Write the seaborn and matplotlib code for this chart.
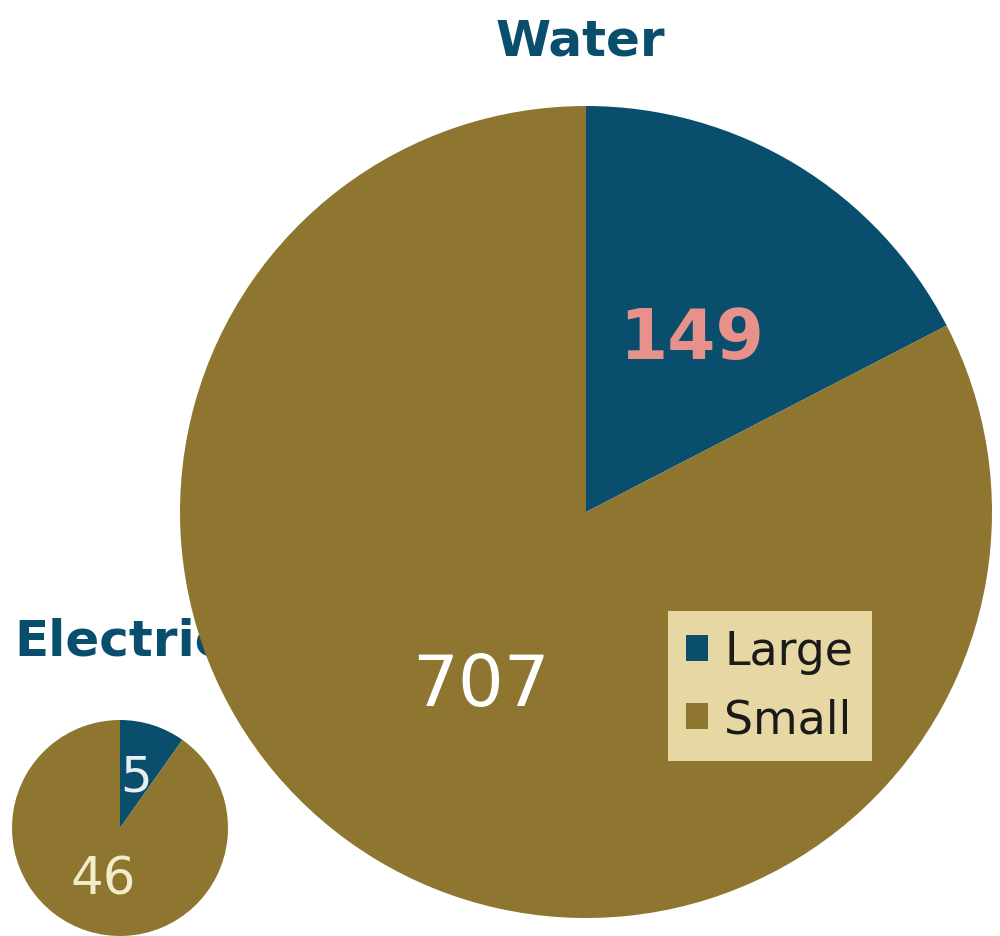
import matplotlib.pyplot as plt
import seaborn as sns

segments = ["Large", "Small"]
water = [149, 707]
electricity = [5, 46]
titles = ["Water", "Electricity"]

NAVY = "#0a4e6e"
GOLD = "#8e7530"


def main():
    sns.set_theme(style="white")
    plt.rcParams["font.family"] = ["DejaVu Sans"]
    palette = sns.color_palette([NAVY, GOLD])

    fig = plt.figure(figsize=(10, 9.37), dpi=100)
    ax = fig.add_axes([0, 0, 1, 1])

    # small pie (electricity)
    small, _, small_txt = ax.pie(
        electricity,
        colors=palette,
        startangle=90,
        counterclock=False,
        center=(120, 937 - 829),
        radius=108,
        autopct=lambda p: f"{round(p * sum(electricity) / 100):d}",
        pctdistance=0.5,
        wedgeprops={"linewidth": 0, "zorder": 2},
    )
    small_txt[0].set(color="#e9eef2", fontsize=36)
    small_txt[1].set(color="#f3ecc8", fontsize=37)

    # big pie (water)
    big, _, big_txt = ax.pie(
        water,
        colors=palette,
        startangle=90,
        counterclock=False,
        center=(586, 937 - 513),
        radius=406,
        autopct=lambda p: f"{round(p * sum(water) / 100):d}",
        pctdistance=0.5,
        wedgeprops={"linewidth": 0, "zorder": 2},
    )
    big_txt[0].set(color="#e8918a", fontsize=50, fontweight="bold")
    big_txt[1].set(color="white", fontsize=52)

    ax.text(580, 937 - 42, titles[0], ha="center", va="center",
            fontsize=36, fontweight="bold", color=NAVY, zorder=1)
    ax.text(14, 937 - 642, titles[1], ha="left", va="center",
            fontsize=36, fontweight="bold", color=NAVY, zorder=1)

    ax.set_xlim(0, 1000)
    ax.set_ylim(0, 937)
    ax.set_aspect("equal")
    ax.axis("off")

    leg = fig.legend(
        big, segments,
        loc="upper left",
        bbox_to_anchor=(0.668, 1 - 612 / 937),
        borderaxespad=0,
        fontsize=33,
        frameon=True,
        fancybox=False,
        handlelength=0.48,
        handleheight=0.48,
        handletextpad=0.35,
        labelspacing=0.5,
        borderpad=0.4,
    )
    leg.get_frame().set(facecolor="#e6d7a3", edgecolor="none", alpha=1)
    for t in leg.get_texts():
        t.set_color("#1a1a1a")

    fig.savefig("out.png", dpi=100)


if __name__ == "__main__":
    main()
